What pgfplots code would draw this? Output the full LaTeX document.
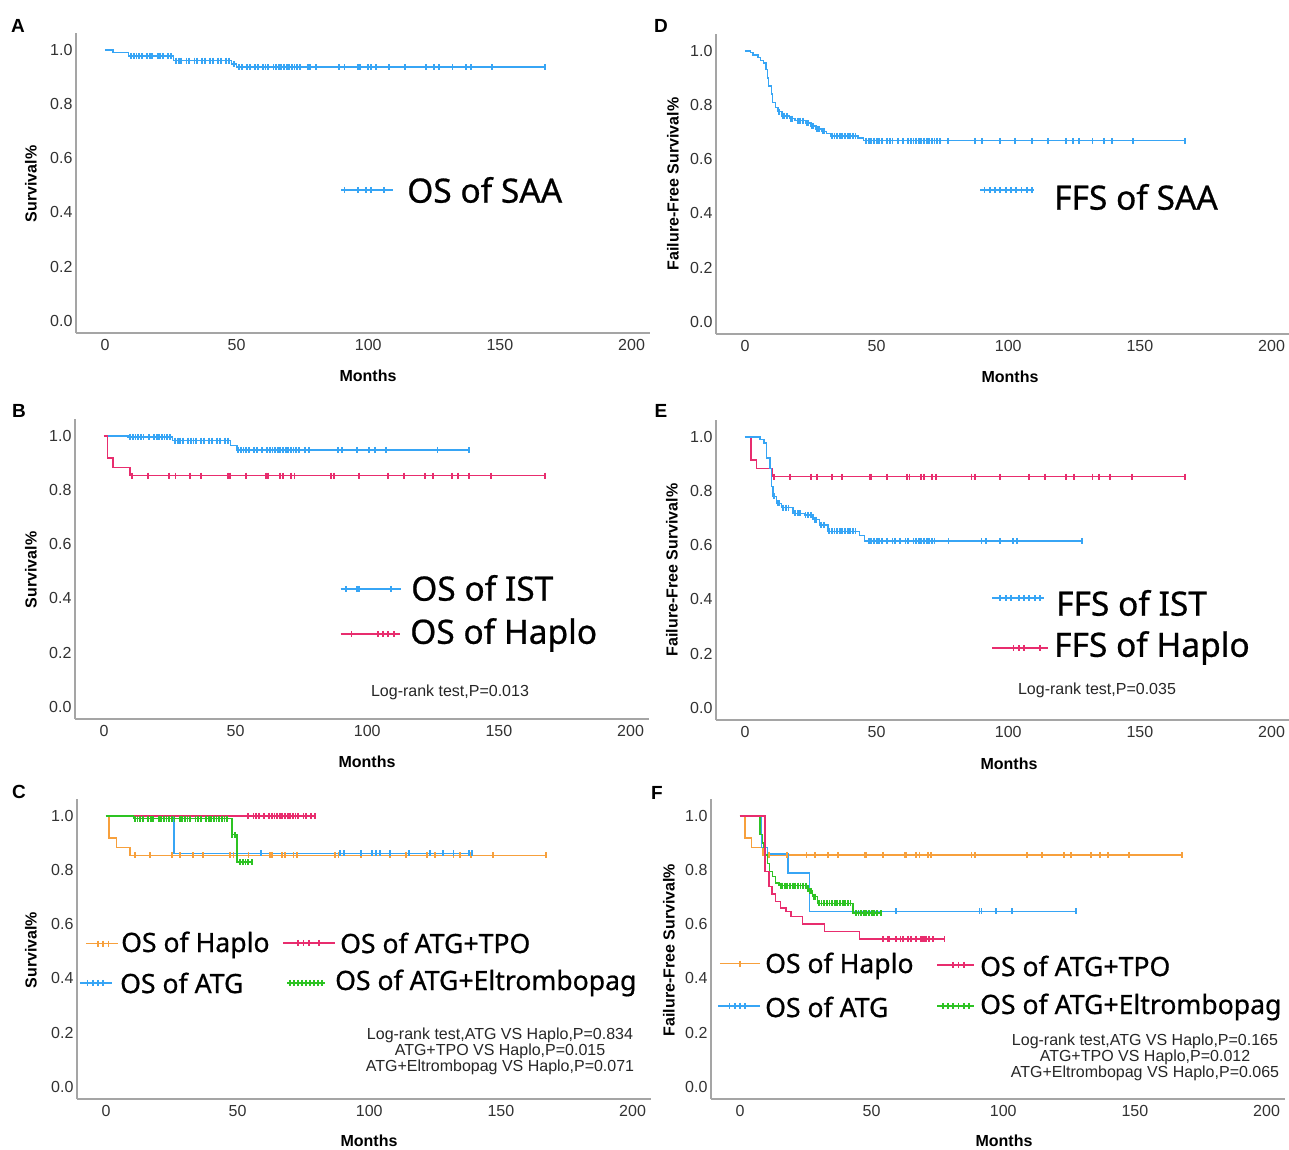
\documentclass[border=0pt]{standalone}
\usepackage{pgfplots}
\pgfplotsset{compat=1.18}
\usepackage{fontspec}
\setmainfont{Liberation Sans}
\newfontfamily\legfont[FakeBold=0.7]{Noto Sans}

\definecolor{kmblue}{RGB}{55,165,245}
\definecolor{kmred}{RGB}{232,45,110}
\definecolor{kmorange}{RGB}{247,160,60}
\definecolor{kmgreen}{RGB}{45,195,35}
\definecolor{axgray}{RGB}{165,165,165}
\definecolor{tickgray}{RGB}{50,50,50}

\pgfplotsset{
  kmaxis/.style={
    scale only axis, width=574pt, height=300pt,
    xmin=-11, xmax=207, ymin=-0.045, ymax=1.062,
    axis x line*=bottom, axis y line*=left,
    axis line style={draw=axgray, line width=1.5pt, -},
    xtick={0,50,100,150,200}, ytick={0,0.2,0.4,0.6,0.8,1.0},
    major tick length=0pt,
    /pgf/number format/assume math mode=true,
    tick label style={font=\fontsize{16}{16}\selectfont, text=tickgray},
    xticklabel style={yshift=-3pt},
    yticklabel style={/pgf/number format/fixed, /pgf/number format/fixed zerofill,
      /pgf/number format/precision=1},
    clip=false, anchor=south west,
  },
  km/.style={const plot, no marks, line width=1.4pt},
  cens/.style={only marks, mark=|, mark size=3pt, mark options={line width=1.8pt}},
}

\newcommand{\lab}[3]{\node[font=\bfseries\fontsize{#3}{#3}\selectfont] at (#1) {#2};}
\newcommand{\leg}[3]{\node[anchor=west, inner sep=0pt, font=\legfont\fontsize{#3}{#3}\selectfont] at (#1) {#2};}
\newcommand{\stat}[2]{\node[align=center, text=black!85, font=\fontsize{16}{16}\selectfont] at (#1) {#2};}

\begin{document}
\begin{tikzpicture}
\useasboundingbox (0pt,0pt) rectangle (1289pt,-1149pt);

% ---------- A: OS of SAA ----------
\begin{axis}[kmaxis, at={(76pt,-333pt)}]
\addplot[km, kmblue] coordinates {(0,1) (3,0.99) (9,0.977) (26,0.96) (48,0.948) (50,0.936) (167,0.936)};
\addplot[cens, kmblue] coordinates {
 (10,0.977)(11,0.977)(12,0.977)(13,0.977)(14,0.977)(16,0.977)(17,0.977)(18,0.977)(20,0.977)(21,0.977)(22,0.977)(24,0.977)(25,0.977)
 (27,0.96)(28,0.96)(29,0.96)(31,0.96)(32,0.96)(34,0.96)(35,0.96)(37,0.96)(38,0.96)(40,0.96)(41,0.96)(43,0.96)(44,0.96)(46,0.96)(47,0.96)
 (49,0.948)
 (51,0.936)(52,0.936)(54,0.936)(55,0.936)(57,0.936)(58,0.936)(60,0.936)(61,0.936)(62,0.936)(64,0.936)(65,0.936)(66,0.936)(67,0.936)
 (68,0.936)(69,0.936)(70,0.936)(71,0.936)(72,0.936)(73,0.936)(74,0.936)(77,0.936)(78,0.936)(80,0.936)(89,0.936)(91,0.936)(96,0.936)
 (97,0.936)(100,0.936)(101,0.936)(103,0.936)(108,0.936)(114,0.936)(122,0.936)(125,0.936)(127,0.936)(132,0.936)(137,0.936)(139,0.936)
 (147,0.936)(167,0.936)};
\addplot[kmblue, line width=1.4pt] coordinates {(89.6,0.483) (109.3,0.483)};
\addplot[cens, kmblue] coordinates {(91,0.483)(96,0.483)(99,0.483)(101,0.483)(106,0.483)};
\end{axis}

% ---------- D: FFS of SAA ----------
\begin{axis}[kmaxis, at={(716pt,-334pt)}]
\addplot[km, kmblue] coordinates {(0,1.0)(2,0.993)(3,0.985)(5,0.975)(6,0.965)(7,0.955)(8,0.93)(8.5,0.9)(9,0.87)(10,0.84)
 (10.5,0.81)(11.5,0.79)(12.5,0.775)(14,0.76)(17,0.75)(19,0.742)(23,0.733)(25,0.723)(27,0.712)(29,0.703)(31,0.695)
 (32.5,0.686)(43,0.678)(45,0.668)(167,0.668)};
\addplot[cens, kmblue] coordinates {
 (13,0.775)(14.5,0.76)(15,0.76)(16,0.76)(17.5,0.75)(18,0.75)(20,0.742)(21,0.742)(22,0.742)(23.5,0.733)(24,0.733)
 (25.5,0.723)(26,0.723)(27.5,0.712)(28,0.712)(29.5,0.703)(30,0.703)
 (33,0.686)(34,0.686)(35,0.686)(36,0.686)(37,0.686)(38,0.686)(39,0.686)(40,0.686)(41,0.686)(42,0.686)
 (46,0.668)(47,0.668)(48,0.668)(49,0.668)(50,0.668)(51,0.668)(52,0.668)(54,0.668)(55,0.668)(56,0.668)(58,0.668)(60,0.668)
 (62,0.668)(63,0.668)(64,0.668)(65,0.668)(66,0.668)(67,0.668)(68,0.668)(69,0.668)(70,0.668)(71,0.668)(72,0.668)(73,0.668)
 (74,0.668)(77,0.668)(87.5,0.668)(90,0.668)(97,0.668)(102.5,0.668)(109,0.668)(115,0.668)(122,0.668)(124.5,0.668)(127,0.668)
 (132,0.668)(136.5,0.668)(139.5,0.668)(147.5,0.668)(167,0.668)};
\addplot[kmblue, line width=1.8pt] coordinates {(89.4,0.487) (109.8,0.487)};
\addplot[cens, kmblue] coordinates {(91,0.487)(93,0.487)(95,0.487)(97,0.487)(99,0.487)(101,0.487)(103,0.487)(105,0.487)(107,0.487)(109,0.487)};
\end{axis}

% ---------- B: OS IST vs Haplo ----------
\begin{axis}[kmaxis, at={(75pt,-719pt)}]
\addplot[km, kmblue] coordinates {(0,1)(9.2,0.995)(26,0.982)(48,0.965)(50.5,0.948)(138.5,0.948)};
\addplot[cens, kmblue] coordinates {
 (10,0.995)(11,0.995)(12,0.995)(13,0.995)(14,0.995)(15,0.995)(17,0.995)(19,0.995)(20,0.995)(21,0.995)(22,0.995)(23,0.995)(24,0.995)(25,0.995)
 (27,0.982)(28,0.982)(29,0.982)(30,0.982)(32,0.982)(33,0.982)(34,0.982)(35,0.982)(37,0.982)(38,0.982)(40,0.982)(41,0.982)
 (43,0.982)(44,0.982)(46,0.982)(47,0.982)
 (51,0.948)(52,0.948)(53,0.948)(54,0.948)(55,0.948)(57,0.948)(58,0.948)(60,0.948)(62,0.948)(63,0.948)(64,0.948)(65,0.948)
 (66,0.948)(67,0.948)(68,0.948)(69,0.948)(70,0.948)(71,0.948)(72,0.948)(73,0.948)(74,0.948)(76.3,0.948)(77.8,0.948)
 (88.8,0.948)(90.3,0.948)(96,0.948)(100.6,0.948)(103,0.948)(107,0.948)(126.7,0.948)(138.5,0.948)};
\addplot[km, kmred] coordinates {(0,1)(1.4,0.918)(3.5,0.883)(9.9,0.853)(167.6,0.853)};
\addplot[cens, kmred] coordinates {
 (10.5,0.853)(16.8,0.853)(24.7,0.853)(27.2,0.853)(32.6,0.853)(36.8,0.853)(47.2,0.853)(47.8,0.853)(53.9,0.853)(61.4,0.853)
 (62.2,0.853)(66.8,0.853)(68,0.853)(71,0.853)(72.4,0.853)(86.1,0.853)(87.4,0.853)(96.8,0.853)(107.8,0.853)(114.1,0.853)
 (121.9,0.853)(125.1,0.853)(132.2,0.853)(134.5,0.853)(138.5,0.853)(147.1,0.853)(167.6,0.853)};
\addplot[kmblue, line width=1.4pt] coordinates {(89.9,0.435) (112.7,0.435)};
\addplot[cens, kmblue] coordinates {(92,0.435)(96,0.435)(97,0.435)(109,0.435)};
\addplot[kmred, line width=1.4pt] coordinates {(89.9,0.269) (112.3,0.269)};
\addplot[cens, kmred] coordinates {(94,0.269)(104,0.269)(106,0.269)(108,0.269)(110,0.269)};
\end{axis}

% ---------- E: FFS IST vs Haplo ----------
\begin{axis}[kmaxis, at={(716pt,-720pt)}]
\addplot[km, kmred] coordinates {(0,1)(2.3,0.915)(4.4,0.884)(10.3,0.853)(167,0.853)};
\addplot[cens, kmred] coordinates {
 (11,0.853)(17,0.853)(25,0.853)(27.5,0.853)(33,0.853)(37,0.853)(47.5,0.853)(48,0.853)(54,0.853)(61.5,0.853)
 (62.5,0.853)(67,0.853)(68,0.853)(71,0.853)(72.5,0.853)(86,0.853)(87.5,0.853)(97,0.853)(108,0.853)(114,0.853)
 (122,0.853)(125,0.853)(132,0.853)(134.5,0.853)(138.5,0.853)(147,0.853)(167,0.853)};
\addplot[km, kmblue] coordinates {(0,1)(5.7,0.99)(7.3,0.977)(8.2,0.922)(9.5,0.884)(10,0.817)(10.7,0.78)(12,0.755)(13.9,0.739)
 (18.3,0.718)(22.7,0.712)(25.9,0.694)(28.4,0.675)(31.6,0.651)(43.6,0.635)(45.5,0.616)(128,0.616)};
\addplot[cens, kmblue] coordinates {
 (11,0.78)(12.5,0.755)(13,0.755)(14.5,0.739)(15.5,0.739)(16.5,0.739)(19,0.718)(20,0.718)(21,0.718)(23,0.712)(24,0.712)(25,0.712)
 (26.5,0.694)(27,0.694)(29,0.675)(30,0.675)
 (32,0.651)(33,0.651)(34,0.651)(35,0.651)(36,0.651)(37,0.651)(38,0.651)(39,0.651)(40,0.651)(41,0.651)(42,0.651)
 (47,0.616)(48,0.616)(49,0.616)(50,0.616)(51,0.616)(52,0.616)(54,0.616)(56,0.616)(57,0.616)(59,0.616)(61,0.616)(62,0.616)
 (64,0.616)(65,0.616)(66,0.616)(67,0.616)(68,0.616)(69,0.616)(70,0.616)(71,0.616)(72,0.616)(77.3,0.616)(89.8,0.616)
 (91.5,0.616)(97,0.616)(101.7,0.616)(103.3,0.616)(128,0.616)};
\addplot[kmblue, line width=1.8pt] coordinates {(93.9,0.406) (113.6,0.406)};
\addplot[cens, kmblue] coordinates {(97,0.406)(99,0.406)(101,0.406)(104,0.406)(106,0.406)(108,0.406)(110,0.406)(112,0.406)};
\addplot[kmred, line width=1.4pt] coordinates {(93.9,0.221) (115.2,0.221)};
\addplot[cens, kmred] coordinates {(102,0.221)(104,0.221)(106,0.221)(112,0.221)};
\end{axis}

% ---------- C: OS by treatment ----------
\begin{axis}[kmaxis, at={(77pt,-1099pt)}]
\addplot[km, kmorange] coordinates {(0,1)(1.1,0.918)(4,0.884)(9.1,0.854)(167,0.854)};
\addplot[cens, kmorange] coordinates {
 (11,0.854)(16.7,0.854)(25,0.854)(28.1,0.854)(33.2,0.854)(37,0.854)(47.1,0.854)(48.4,0.854)(54.1,0.854)(62.4,0.854)
 (63,0.854)(66.8,0.854)(68,0.854)(71.2,0.854)(72.5,0.854)(87,0.854)(88.3,0.854)(97,0.854)(108,0.854)(114,0.854)
 (122,0.854)(125,0.854)(132,0.854)(134.5,0.854)(138.5,0.854)(147,0.854)(167,0.854)};
\addplot[km, kmblue] coordinates {(0,1)(25.9,0.862)(139,0.862)};
\addplot[cens, kmblue] coordinates {(59,0.862)(89,0.862)(90.5,0.862)(97,0.862)(101,0.862)(102.5,0.862)(104,0.862)(108,0.862)
 (115,0.862)(123,0.862)(128,0.862)(132,0.862)(138,0.862)(139,0.862)};
\addplot[km, kmred] coordinates {(0,1)(79.5,1)};
\addplot[cens, kmred] coordinates {(54,1)(56,1)(57,1)(58,1)(60,1)(62,1)(63,1)(64,1)(65,1)(66,1)(67,1)(68,1)(69,1)(70,1)
 (71,1)(72,1)(73,1)(75,1)(76,1)(78,1)(79.5,1)};
\addplot[km, kmgreen] coordinates {(0,1)(10.5,0.99)(47.8,0.93)(49.7,0.83)(55.4,0.83)};
\addplot[cens, kmgreen] coordinates {
 (11,0.99)(12,0.99)(13,0.99)(14,0.99)(16,0.99)(17,0.99)(18,0.99)(20,0.99)(21,0.99)(22,0.99)(23,0.99)(24,0.99)(25,0.99)
 (26,0.99)(28,0.99)(29,0.99)(30,0.99)(31,0.99)(32,0.99)(34,0.99)(35,0.99)(36,0.99)(38,0.99)(39,0.99)(40,0.99)(41,0.99)
 (42,0.99)(43,0.99)(44,0.99)(45,0.99)(46,0.99)(48,0.93)(49,0.93)(51,0.83)(52,0.83)(53,0.83)(54,0.83)(55.4,0.83)};
\addplot[kmorange, line width=1.4pt] coordinates {(-7.6,0.528) (4.6,0.528)};
\addplot[cens, kmorange] coordinates {(-3,0.528)(-1,0.528)(1,0.528)};
\addplot[kmred, line width=1.4pt] coordinates {(67.3,0.531) (87.1,0.531)};
\addplot[cens, kmred] coordinates {(73,0.531)(75,0.531)(77,0.531)(81,0.531)};
\addplot[kmblue, line width=1.8pt] coordinates {(-9.9,0.384) (2.3,0.384)};
\addplot[cens, kmblue] coordinates {(-7,0.384)(-5,0.384)(-3,0.384)(-1,0.384)};
\addplot[kmgreen, line width=1.8pt] coordinates {(68.8,0.384) (83.3,0.384)};
\addplot[cens, kmgreen] coordinates {(70,0.384)(71.5,0.384)(73,0.384)(74.5,0.384)(76,0.384)(77.5,0.384)(79,0.384)(80.5,0.384)(82,0.384)};
\end{axis}

% ---------- F: FFS by treatment ----------
\begin{axis}[kmaxis, at={(711pt,-1099pt)}]
\addplot[km, kmorange] coordinates {(0,1)(1.9,0.918)(4.4,0.883)(8.8,0.856)(168,0.856)};
\addplot[cens, kmorange] coordinates {
 (11,0.856)(18,0.856)(25.3,0.856)(28.4,0.856)(33.5,0.856)(37.2,0.856)(47.3,0.856)(48,0.856)(54.3,0.856)(62.5,0.856)
 (63.1,0.856)(66.9,0.856)(68.2,0.856)(71.3,0.856)(72.6,0.856)(87.9,0.856)(89.4,0.856)(109,0.856)(114.6,0.856)(123,0.856)
 (125.6,0.856)(133.3,0.856)(136.6,0.856)(139.8,0.856)(147.6,0.856)(168,0.856)};
\addplot[km, kmblue] coordinates {(0,1)(8.2,0.883)(10.5,0.859)(18.3,0.789)(26.5,0.647)(127.5,0.647)};
\addplot[cens, kmblue] coordinates {(59.3,0.647)(91,0.647)(91.7,0.647)(97.3,0.647)(103.4,0.647)(127.5,0.647)};
\addplot[km, kmgreen] coordinates {(0,1)(7.6,0.93)(8.5,0.9)(9.2,0.884)(9.8,0.856)(10.5,0.825)(11.2,0.795)(12.3,0.776)
 (13.5,0.752)(14.8,0.742)(25.9,0.723)(27.5,0.702)(29.4,0.677)(42.9,0.641)(53.7,0.641)};
\addplot[cens, kmgreen] coordinates {
 (15.5,0.742)(16,0.742)(17,0.742)(18,0.742)(19,0.742)(20,0.742)(21,0.742)(22,0.742)(23,0.742)(24,0.742)(25,0.742)
 (26.5,0.723)(27,0.723)(28,0.702)(28.5,0.702)
 (30,0.677)(31,0.677)(32,0.677)(33,0.677)(34,0.677)(35,0.677)(36,0.677)(37,0.677)(38,0.677)(39,0.677)(40,0.677)(41,0.677)(42,0.677)
 (44,0.641)(45,0.641)(46,0.641)(47,0.641)(48,0.641)(49,0.641)(50,0.641)(51,0.641)(52,0.641)(53.7,0.641)};
\addplot[km, kmred] coordinates {(0,1)(9.5,0.795)(11,0.74)(12.2,0.711)(13.5,0.684)(15.5,0.66)(17.5,0.647)(19.4,0.629)
 (23.8,0.601)(32,0.574)(45.5,0.546)(77.7,0.546)};
\addplot[cens, kmred] coordinates {(54.3,0.546)(56.2,0.546)(56.8,0.546)(59.3,0.546)(61,0.546)(62,0.546)(63.7,0.546)(64,0.546)
 (65,0.546)(66.9,0.546)(67,0.546)(68.8,0.546)(69,0.546)(70,0.546)(70.7,0.546)(71.9,0.546)(73.2,0.546)(77.7,0.546)};
\addplot[kmorange, line width=1.4pt] coordinates {(-7.6,0.454) (7.6,0.454)};
\addplot[cens, kmorange] coordinates {(0,0.454)};
\addplot[kmred, line width=1.4pt] coordinates {(75,0.450) (89,0.450)};
\addplot[cens, kmred] coordinates {(81,0.450)(83,0.450)(85,0.450)};
\addplot[kmblue, line width=1.8pt] coordinates {(-8.3,0.299) (7.6,0.299)};
\addplot[cens, kmblue] coordinates {(-4,0.299)(-2,0.299)(0,0.299)(2,0.299)};
\addplot[kmgreen, line width=1.8pt] coordinates {(75,0.299) (89,0.299)};
\addplot[cens, kmgreen] coordinates {(77,0.299)(79,0.299)(81,0.299)(83,0.299)(85,0.299)(87,0.299)};
\end{axis}

% ---------- text ----------
\lab{18pt,-26pt}{A}{19}
\lab{661pt,-26pt}{D}{19}
\lab{19pt,-411pt}{B}{19}
\lab{661pt,-411pt}{E}{19}
\lab{19pt,-792pt}{C}{19}
\lab{657pt,-793pt}{F}{19}

\lab{368pt,-376pt}{Months}{16}
\lab{1010pt,-377pt}{Months}{16}
\lab{367pt,-762pt}{Months}{16}
\lab{1009pt,-764pt}{Months}{16}
\lab{369pt,-1141pt}{Months}{16}
\lab{1004pt,-1141pt}{Months}{16}

\node[rotate=90, font=\bfseries\fontsize{16}{16}\selectfont] at (31pt,-184pt) {Survival\%};
\node[rotate=90, font=\bfseries\fontsize{16}{16}\selectfont] at (673pt,-184pt) {Failure-Free Survival\%};
\node[rotate=90, font=\bfseries\fontsize{16}{16}\selectfont] at (31pt,-570pt) {Survival\%};
\node[rotate=90, font=\bfseries\fontsize{16}{16}\selectfont] at (672pt,-570pt) {Failure-Free Survival\%};
\node[rotate=90, font=\bfseries\fontsize{16}{16}\selectfont] at (31pt,-950pt) {Survival\%};
\node[rotate=90, font=\bfseries\fontsize{16}{16}\selectfont] at (669pt,-950pt) {Failure-Free Survival\%};

\leg{407pt,-190pt}{OS of SAA}{33.5}
\leg{1054pt,-197pt}{FFS of SAA}{33.5}
\leg{411pt,-588pt}{OS of IST}{33.5}
\leg{410pt,-635pt}{OS of Haplo}{33.5}
\leg{1056pt,-603pt}{FFS of IST}{33.5}
\leg{1054pt,-648pt}{FFS of Haplo}{33.5}
\leg{121pt,-945pt}{OS of Haplo}{26.6}
\leg{340pt,-943pt}{OS of ATG+TPO}{26.6}
\leg{120pt,-983pt}{OS of ATG}{26.6}
\leg{335pt,-983pt}{OS of ATG+Eltrombopag}{26.6}
\leg{765pt,-966pt}{OS of Haplo}{26.6}
\leg{980pt,-966pt}{OS of ATG+TPO}{26.6}
\leg{765pt,-1007pt}{OS of ATG}{26.6}
\leg{980pt,-1007pt}{OS of ATG+Eltrombopag}{26.6}

\stat{450pt,-692pt}{Log-rank test,P=0.013}
\stat{1097pt,-690pt}{Log-rank test,P=0.035}
\stat{500pt,-1051pt}{Log-rank test,ATG VS Haplo,P=0.834\\ATG+TPO VS Haplo,P=0.015\\ATG+Eltrombopag VS Haplo,P=0.071}
\stat{1145pt,-1057pt}{Log-rank test,ATG VS Haplo,P=0.165\\ATG+TPO VS Haplo,P=0.012\\ATG+Eltrombopag VS Haplo,P=0.065}
\end{tikzpicture}
\end{document}
